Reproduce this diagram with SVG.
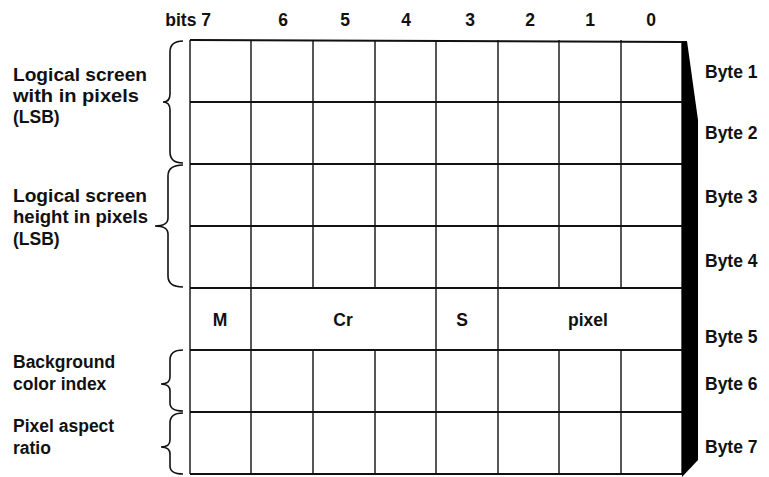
<svg xmlns="http://www.w3.org/2000/svg" width="769" height="477" viewBox="0 0 769 477">
<style>
text{font-family:"Liberation Sans",Arial,sans-serif;font-weight:bold;font-size:17.5px;fill:#111}
.hl{stroke:#111;stroke-width:2;fill:none}
.vl{stroke:#111;stroke-width:1.4;fill:none}
.br{stroke:#111;stroke-width:1.6;fill:none}
.c{text-anchor:middle}
</style>
<rect width="769" height="477" fill="#fff"/>
<g id="header">
<text x="211" y="26" text-anchor="end">bits 7</text>
<text class="c" x="283" y="26">6</text>
<text class="c" x="345" y="26">5</text>
<text class="c" x="406" y="26">4</text>
<text class="c" x="470" y="26">3</text>
<text class="c" x="530" y="26">2</text>
<text class="c" x="590" y="26">1</text>
<text class="c" x="651" y="26">0</text>
</g>
<g id="grid">
<path class="hl" d="M190,40 L682,42 M190,102 H682 M190,164 H682 M190,226 H682 M190,288 H682 M190,350 H682 M190,412 H682 M190,474 H682"/>
<path class="vl" d="M190,40 V474 M682,42 V474"/>
<path class="vl" d="M251,40 V474 M436,40 V474 M498,40 V474"/>
<path class="vl" d="M313,40 V288 M375,40 V288 M559,40 V288 M621,40 V288"/>
<path class="vl" d="M313,350 V474 M375,350 V474 M559,350 V474 M621,350 V474"/>
</g>
<g id="bar">
<polygon points="682,41 687,41 698,120 698,460 682,477" fill="#000"/>
</g>
<g id="row5">
<text class="c" x="220" y="326">M</text>
<text class="c" x="343" y="326">Cr</text>
<text class="c" x="462" y="326">S</text>
<text class="c" x="588" y="326">pixel</text>
</g>
<g id="width-group">
<path class="br" d="M183,41 Q170,41 170,52 L170,94 Q170,102 163,102 Q170,102 170,110 L170,152 Q170,163 183,163"/>
<text x="13" y="81" textLength="134" lengthAdjust="spacingAndGlyphs">Logical screen</text>
<text x="13" y="102" textLength="126" lengthAdjust="spacingAndGlyphs">with in pixels</text>
<text x="13" y="123">(LSB)</text>
</g>
<g id="height-group">
<path class="br" d="M183,165 Q168,165 168,176 L168,218 Q168,226 155,226 Q168,226 168,234 L168,276 Q168,287 183,287"/>
<text x="13" y="202" textLength="134" lengthAdjust="spacingAndGlyphs">Logical screen</text>
<text x="13" y="223" textLength="135" lengthAdjust="spacingAndGlyphs">height in pixels</text>
<text x="13" y="245">(LSB)</text>
</g>
<g id="background-group">
<path class="br" d="M183,350 Q170,350 170,360 L170,377 Q170,384 161,384 Q170,384 170,391 L170,403 Q170,411 183,411"/>
<text x="13" y="368">Background</text>
<text x="13" y="390">color index</text>
</g>
<g id="aspect-group">
<path class="br" d="M183,413 Q170,413 170,423 L170,440 Q170,447 161,447 Q170,447 170,454 L170,466 Q170,474 183,474"/>
<text x="13" y="432">Pixel aspect</text>
<text x="13" y="454">ratio</text>
</g>
<g id="bytes">
<text x="705" y="78">Byte 1</text>
<text x="705" y="139">Byte 2</text>
<text x="705" y="203">Byte 3</text>
<text x="705" y="267">Byte 4</text>
<text x="705" y="343">Byte 5</text>
<text x="705" y="390">Byte 6</text>
<text x="705" y="453">Byte 7</text>
</g>
</svg>
